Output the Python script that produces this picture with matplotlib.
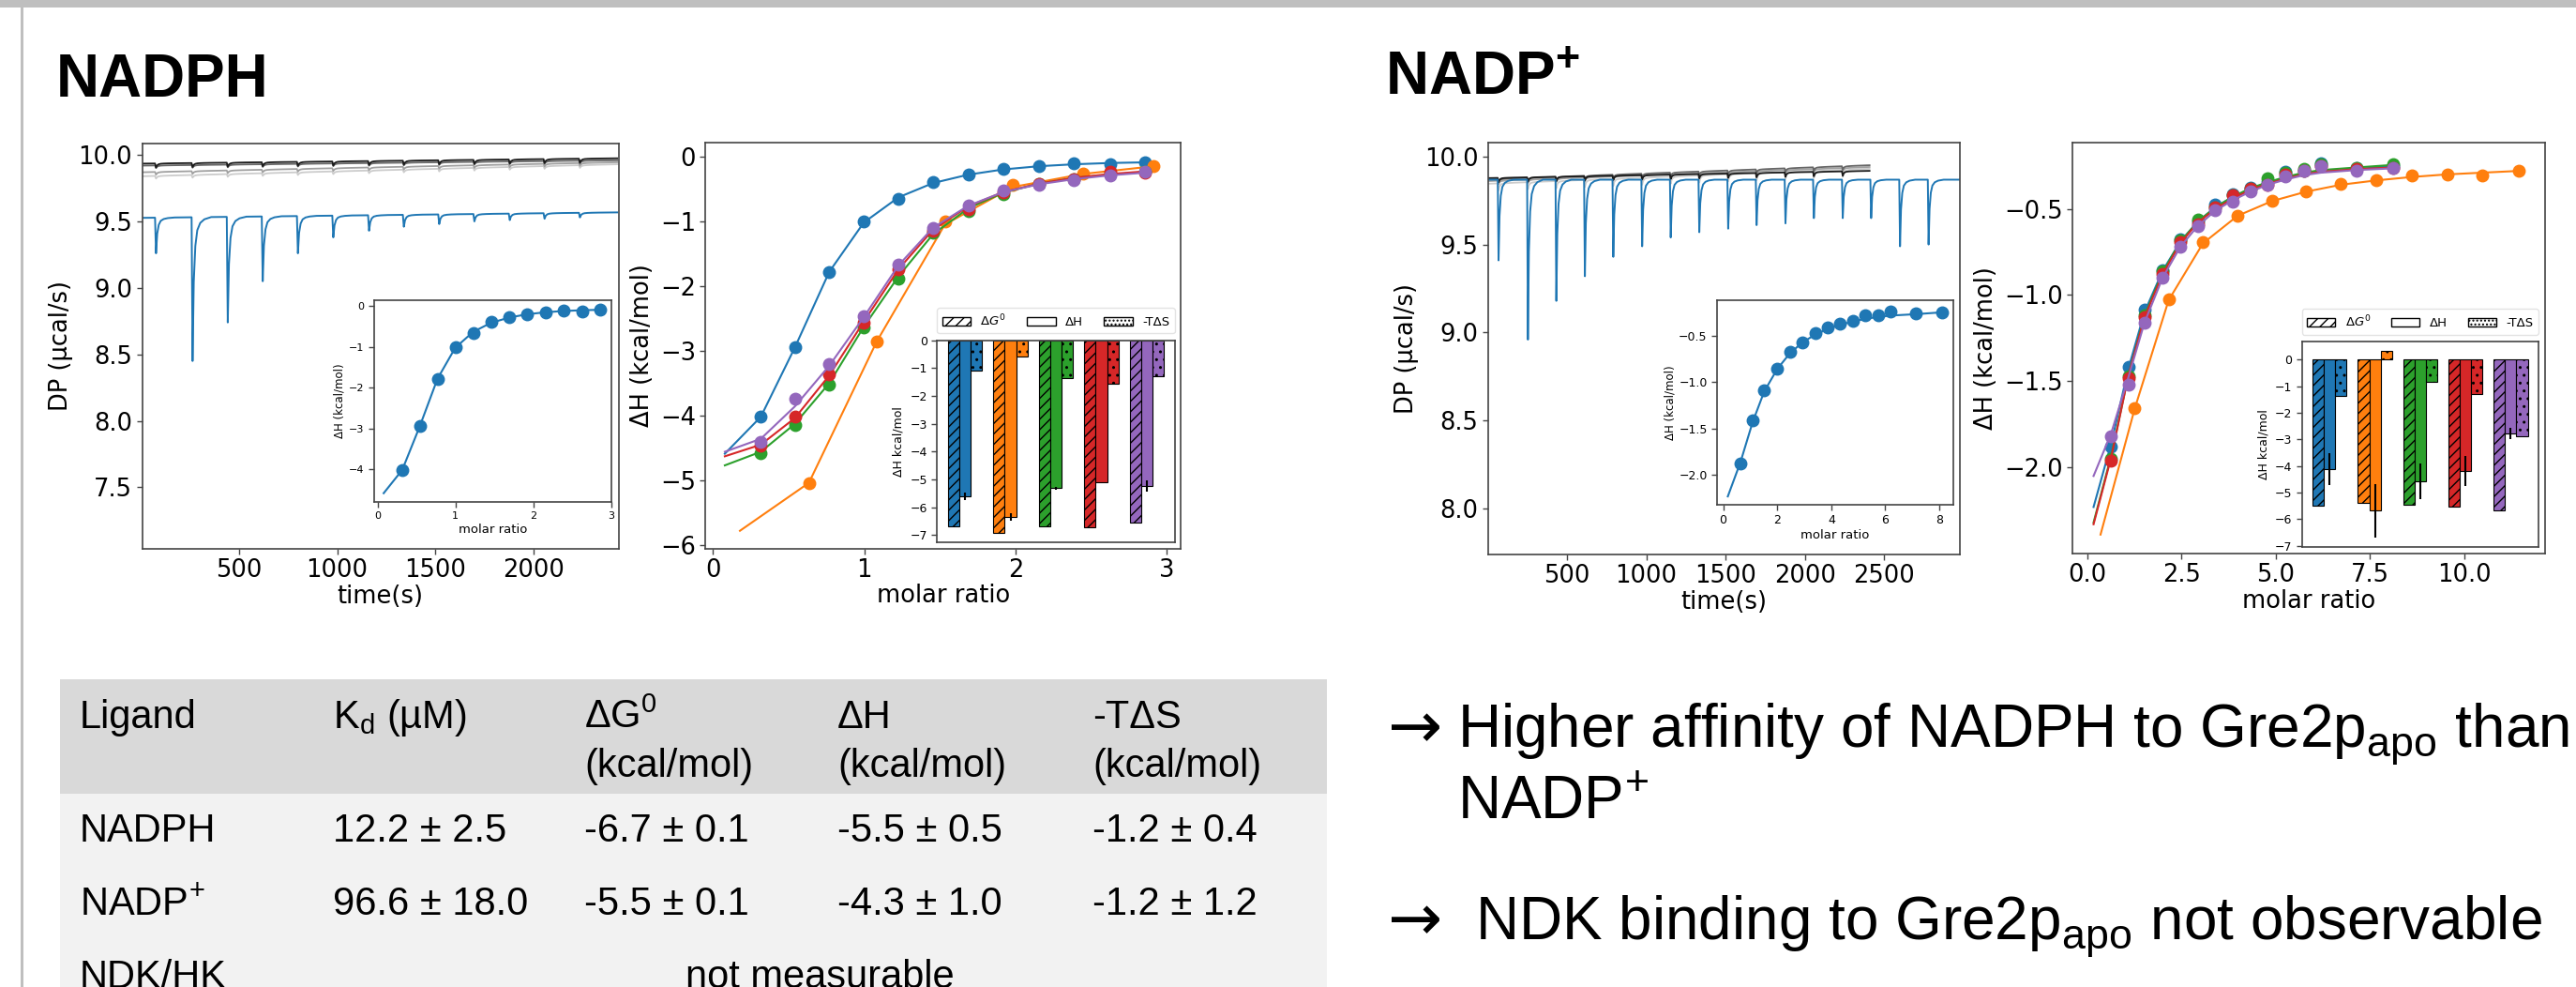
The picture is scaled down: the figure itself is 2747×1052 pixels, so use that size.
import numpy as np
import matplotlib.pyplot as plt
from matplotlib.patches import Rectangle, Patch

W, H = 2747, 1052
COLORS = ['#1f77b4', '#ff7f0e', '#2ca02c', '#d62728', '#9467bd']
SANS = ['Liberation Sans', 'DejaVu Sans']

# --- thermograms (DP vs time) ---
DP1_T = [10, 2425]
DP1_BASE = [9.527, 9.568]
DP1_INJ = [73, 259, 438, 616, 795, 975, 1157, 1334, 1514, 1693, 1873, 2050, 2230]
DP1_MIN = [9.26, 8.45, 8.74, 9.05, 9.26, 9.38, 9.43, 9.46, 9.48, 9.50, 9.51, 9.52, 9.53]
DP1_REF_BASE = [[9.84, 9.93], [9.87, 9.945], [9.92, 9.96], [9.935, 9.975]]
DP1_REF_DIP = [0.02, 0.02, 0.02, 0.03]

DP2_T = [5, 2975]
DP2_BASE = [9.868, 9.868]
DP2_INJ = [64, 249, 428, 608, 787, 969, 1149, 1329, 1511, 1690, 1872, 2051, 2233, 2412, 2594, 2774]
DP2_MIN = [9.41, 8.96, 9.18, 9.32, 9.43, 9.49, 9.54, 9.57, 9.59, 9.61, 9.62, 9.65, 9.65, 9.65, 9.49, 9.50]
DP2_REF_T = [5, 2407]
DP2_REF_BASE = [[9.845, 9.93], [9.86, 9.94], [9.87, 9.95], [9.877, 9.918]]
DP2_REF_DIP = [0.04, 0.02, 0.02, 0.025]
REF_COLORS = ['#cccccc', '#a0a0a0', '#666666', '#1a1a1a']

# shape of one injection peak (s after injection, fraction of depth)
PEAK_DT = [0, 5, 11, 19, 29, 44, 65, 100]
PEAK_FRAC = [0, 1, 0.45, 0.2, 0.09, 0.04, 0.015, 0]

# --- NADPH isotherms ---
MR1 = [0.316, 0.541, 0.769, 0.997, 1.227, 1.455, 1.688, 1.918, 2.153, 2.386, 2.625, 2.855]
MR1_FIT = [0.078] + MR1
DH1 = {
    'blue': [-4.02, -2.94, -1.79, -1.00, -0.65, -0.39, -0.28, -0.19, -0.15, -0.11, -0.12, -0.09],
    'green': [-4.58, -4.15, -3.52, -2.64, -1.88, -1.17, -0.85, -0.58, -0.42, -0.35, -0.27, -0.23],
    'red': [-4.47, -4.02, -3.37, -2.57, -1.74, -1.15, -0.82, -0.55, -0.42, -0.35, -0.24, -0.25],
    'purple': [-4.41, -3.74, -3.20, -2.46, -1.67, -1.10, -0.76, -0.53, -0.44, -0.36, -0.29, -0.23],
}
FIT1 = {
    'blue': [-4.59, -4.02, -2.95, -1.78, -1.02, -0.63, -0.41, -0.28, -0.20, -0.15, -0.12, -0.10, -0.09],
    'green': [-4.77, -4.56, -4.13, -3.50, -2.63, -1.85, -1.20, -0.80, -0.56, -0.42, -0.33, -0.28, -0.24],
    'red': [-4.63, -4.45, -4.04, -3.38, -2.55, -1.74, -1.13, -0.77, -0.55, -0.42, -0.33, -0.27, -0.23],
    'purple': [-4.56, -4.36, -3.86, -3.23, -2.48, -1.68, -1.10, -0.76, -0.55, -0.43, -0.35, -0.29, -0.25],
}
MR1_OR = [0.634, 1.082, 1.533, 1.984, 2.445, 2.915]
DH1_OR = [-5.04, -2.86, -1.00, -0.44, -0.26, -0.145]
MR1_OR_FIT = [0.178] + MR1_OR
FIT1_OR = [-5.78, -5.04, -2.86, -1.05, -0.47, -0.27, -0.15]

# --- NADP+ isotherms ---
MR2 = [0.64, 1.09, 1.52, 2.0, 2.47, 2.93, 3.40, 3.86, 4.33, 4.79, 5.26, 5.74, 6.2, 7.13, 8.1]
MR2_FIT = [0.17] + MR2
DH2 = {
    'blue': [-1.88, -1.415, -1.085, -0.854, -0.677, -0.573, -0.477, -0.415, -0.377, -0.342, -0.285, -0.277, -0.238, -0.265, -0.254],
    'green': [-1.95, -1.47, -1.12, -0.86, -0.68, -0.56, -0.49, -0.42, -0.38, -0.32, -0.29, -0.27, -0.24, -0.26, -0.24],
    'red': [-1.96, -1.48, -1.13, -0.88, -0.69, -0.59, -0.49, -0.42, -0.38, -0.36, -0.30, -0.28, -0.25, -0.27, -0.26],
    'purple': [-1.82, -1.52, -1.16, -0.90, -0.72, -0.60, -0.51, -0.46, -0.40, -0.36, -0.31, -0.28, -0.25, -0.28, -0.26],
}
FIT2 = {
    'blue': [-2.23, -1.86, -1.43, -1.10, -0.86, -0.69, -0.575, -0.49, -0.43, -0.385, -0.35, -0.32, -0.30, -0.285, -0.27, -0.25],
    'green': [-2.32, -1.93, -1.47, -1.12, -0.87, -0.69, -0.575, -0.49, -0.43, -0.38, -0.345, -0.315, -0.29, -0.275, -0.26, -0.245],
    'red': [-2.33, -1.94, -1.47, -1.13, -0.88, -0.70, -0.58, -0.50, -0.44, -0.39, -0.355, -0.325, -0.30, -0.285, -0.27, -0.26],
    'purple': [-2.05, -1.80, -1.48, -1.16, -0.90, -0.72, -0.60, -0.51, -0.45, -0.40, -0.36, -0.33, -0.305, -0.29, -0.275, -0.265],
}
MR2_OR = [1.26, 2.16, 3.07, 3.99, 4.90, 5.81, 6.73, 7.66, 8.61, 9.54, 10.48, 11.43]
DH2_OR = [-1.655, -1.024, -0.690, -0.54, -0.454, -0.398, -0.355, -0.331, -0.306, -0.299, -0.304, -0.28]
MR2_OR_FIT = [0.355] + MR2_OR
FIT2_OR = [-2.39, -1.66, -1.03, -0.70, -0.54, -0.455, -0.40, -0.36, -0.335, -0.315, -0.30, -0.29, -0.28]

# --- thermodynamic bar insets (kcal/mol) ---
BAR1_DG = [-6.69, -6.91, -6.69, -6.72, -6.55]
BAR1_DH = [-5.60, -6.36, -5.31, -5.09, -5.25]
BAR1_DH_ERR = [0.14, 0.14, 0.05, 0.0, 0.2]
BAR1_TDS = [-1.09, -0.57, -1.35, -1.57, -1.29]

BAR2_DG = [-5.48, -5.38, -5.46, -5.52, -5.68]
BAR2_DH = [-4.12, -5.69, -4.59, -4.19, -2.78]
BAR2_DH_ERR = [0.59, 1.0, 0.67, 0.58, 0.22]
BAR2_TDS = [-1.35, 0.33, -0.85, -1.29, -2.87]

# --- table ---
TABLE_HEAD = ['Ligand', 'K$_\\mathregular{d}$ (µM)', 'ΔG$^\\mathregular{0}$', 'ΔH', '-TΔS']
TABLE_ROWS = [
    ['NADPH', '12.2 ± 2.5', '-6.7 ± 0.1', '-5.5 ± 0.5', '-1.2 ± 0.4'],
    ['NADP$^\\mathregular{+}$', '96.6 ± 18.0', '-5.5 ± 0.1', '-4.3 ± 1.0', '-1.2 ± 1.2'],
]


def box(l, t, r, b):
    return [l / W, 1 - b / H, (r - l) / W, (b - t) / H]


def trace(t_range, base, inj, depth):
    t, f, d = [t_range[0]], [0], [0]
    for ti, di in zip(inj, depth):
        t += [ti + x for x in PEAK_DT]
        f += PEAK_FRAC
        d += [di] * len(PEAK_DT)
    t.append(t_range[1]); f.append(0); d.append(0)
    t = np.array(t, dtype=float)
    y = np.interp(t, t_range, base) - np.array(f) * np.array(d)
    return t, y


def style(ax, fs):
    for s in ax.spines.values():
        s.set_color('#444444')
        s.set_linewidth(1.2)
    ax.tick_params(labelsize=fs, color='#444444', width=1.0, length=4)


def fig_text(x, y, s, family=SANS, **kw):
    fig.text(x / W, 1 - y / H, s, va='baseline', family=family, **kw)


fig = plt.figure(figsize=(W / 100, H / 100), dpi=100)

# slide frame
fig.add_artist(Rectangle((0, 1 - 8 / H), 1, 8 / H, transform=fig.transFigure, color='#bfbfbf', lw=0))
fig.add_artist(Rectangle((21.5 / W, 0), 3 / W, 1, transform=fig.transFigure, color='#bfbfbf', lw=0))

fig_text(60, 103, 'NADPH', fontsize=46, fontweight='bold')
fig_text(1477, 101, 'NADP$^\\mathregular{+}$', fontsize=46, fontweight='bold')


def dp_panel(rect, t_range, base, inj, mins, ref_t, ref_base, ref_dip, xlim, ylim, yticks, xticks):
    ax = fig.add_axes(rect)
    for b, dp, c in zip(ref_base, ref_dip, REF_COLORS):
        inj_r = [ti for ti in inj if ti + PEAK_DT[-1] < ref_t[1]]
        t, y = trace(ref_t, b, inj_r, [dp] * len(inj_r))
        ax.plot(t, y, color=c, lw=1.3)
    depth = np.interp(inj, t_range, base) - np.array(mins)
    t, y = trace(t_range, base, inj, depth)
    ax.plot(t, y, color=COLORS[0], lw=1.4)
    ax.set_xlim(xlim)
    ax.set_ylim(ylim)
    ax.set_xticks(xticks)
    ax.set_yticks(yticks)
    ax.set_xlabel('time(s)', fontsize=18.5, labelpad=1)
    ax.set_ylabel('DP (µcal/s)', fontsize=18.5)
    style(ax, 18.5)
    return ax


def iso_inset(rect, x, y, xf, yf, xlim, ylim, xticks, yticks, fs):
    ax = fig.add_axes(rect)
    ax.plot(xf, yf, color=COLORS[0], lw=1.5)
    ax.plot(x, y, 'o', color=COLORS[0], ms=9)
    ax.set_xlim(xlim)
    ax.set_ylim(ylim)
    ax.set_xticks(xticks)
    ax.set_yticks(yticks)
    ax.set_xlabel('molar ratio', fontsize=9.5, labelpad=2)
    ax.set_ylabel('ΔH (kcal/mol)', fontsize=8.5, labelpad=2)
    style(ax, fs)


def iso_panel(rect, mr, dh, mr_fit, fit, mr_or, dh_or, mr_or_fit, fit_or, xlim, ylim, xticks, yticks):
    ax = fig.add_axes(rect)
    names = ['blue', 'orange', 'green', 'red', 'purple']
    for name, c in zip(names, COLORS):
        if name == 'orange':
            ax.plot(mr_or_fit, fit_or, color=c, lw=1.5)
            ax.plot(mr_or, dh_or, 'o', color=c, ms=9)
        else:
            ax.plot(mr_fit, fit[name], color=c, lw=1.5)
            ax.plot(mr, dh[name], 'o', color=c, ms=9)
    ax.set_xlim(xlim)
    ax.set_ylim(ylim)
    ax.set_xticks(xticks)
    ax.set_yticks(yticks)
    ax.set_xlabel('molar ratio', fontsize=18.5, labelpad=1)
    ax.set_ylabel('ΔH (kcal/mol)', fontsize=18.5)
    style(ax, 18.5)
    return ax


def bar_inset(rect, dg, dh, dh_err, tds, ylim):
    ax = fig.add_axes(rect)
    x = np.arange(len(dg))
    ax.bar(x - 0.25, dg, 0.25, color=COLORS, edgecolor='black', hatch='///', lw=0.8)
    ax.bar(x, dh, 0.25, color=COLORS, edgecolor='black', lw=0.8,
           yerr=dh_err, error_kw=dict(ecolor='black', lw=1.5, capsize=0))
    ax.bar(x + 0.25, tds, 0.25, color=COLORS, edgecolor='black', hatch='..', lw=0.8)
    ax.set_xlim(-0.6125, 4.6125)
    ax.set_ylim(ylim)
    ax.set_xticks([])
    ax.set_yticks(range(0, -8, -1))
    ax.set_ylabel('ΔH kcal/mol', fontsize=9)
    style(ax, 9)
    handles = [Patch(fc='white', ec='black', hatch='///', label=r'$\Delta G^0$'),
               Patch(fc='white', ec='black', label='ΔH'),
               Patch(fc='white', ec='black', hatch='....', label='-TΔS')]
    ax.legend(handles=handles, ncol=3, loc='lower left', bbox_to_anchor=(0, 1.035, 1, 0.1),
              mode='expand', fontsize=9.5, borderaxespad=0, handlelength=2.3,
              frameon=True, edgecolor='#dddddd')


# NADPH block
dp_panel(box(151.5, 152.7, 659.5, 585), DP1_T, DP1_BASE, DP1_INJ, DP1_MIN,
         DP1_T, DP1_REF_BASE, DP1_REF_DIP, (7, 2431), (7.037, 10.088),
         [7.5, 8.0, 8.5, 9.0, 9.5, 10.0], [500, 1000, 1500, 2000])
iso_inset(box(398.5, 319.6, 652, 534.8), MR1, DH1['blue'], MR1_FIT, FIT1['blue'],
          (-0.05, 3.0), (-4.8, 0.154), [0, 1, 2, 3], [0, -1, -2, -3, -4], 8)
iso_panel(box(752.3, 152.4, 1259.4, 584.5), MR1, DH1, MR1_FIT, FIT1,
          MR1_OR, DH1_OR, MR1_OR_FIT, FIT1_OR, (-0.05, 3.095), (-6.052, 0.209),
          [0, 1, 2, 3], [0, -1, -2, -3, -4, -5, -6])
bar_inset(box(999.3, 362.7, 1252.7, 578.3), BAR1_DG, BAR1_DH, BAR1_DH_ERR, BAR1_TDS, (-7.27, 0))

# NADP+ block
dp_panel(box(1586.7, 151.7, 2090.3, 590.7), DP2_T, DP2_BASE, DP2_INJ, DP2_MIN,
         DP2_REF_T, DP2_REF_BASE, DP2_REF_DIP, (2, 2978), (7.742, 10.08),
         [8.0, 8.5, 9.0, 9.5, 10.0], [500, 1000, 1500, 2000, 2500])
iso_inset(box(1831, 320, 2083, 538), MR2, DH2['blue'], MR2_FIT, FIT2['blue'],
          (-0.23, 8.52), (-2.32, -0.12), [0, 2, 4, 6, 8], [-0.5, -1.0, -1.5, -2.0], 9)
iso_panel(box(2210, 151.7, 2713.7, 590), MR2, DH2, MR2_FIT, FIT2,
          MR2_OR, DH2_OR, MR2_OR_FIT, FIT2_OR, (-0.39, 12.13), (-2.5, -0.114),
          [0.0, 2.5, 5.0, 7.5, 10.0], [-0.5, -1.0, -1.5, -2.0])
bar_inset(box(2454.7, 364.3, 2707, 583.3), BAR2_DG, BAR2_DH, BAR2_DH_ERR, BAR2_TDS, (-7.06, 0.67))

# table
fig.add_artist(Rectangle((64 / W, 1 - 845.7 / H), (1415 - 64) / W, (845.7 - 724) / H,
                         transform=fig.transFigure, color='#d9d9d9', lw=0))
fig.add_artist(Rectangle((64 / W, 0), (1415 - 64) / W, 1 - 845.7 / H,
                         transform=fig.transFigure, color='#f2f2f2', lw=0))
col_x = [85, 355, 623, 893, 1165]
for x, s in zip(col_x, TABLE_HEAD):
    fig_text(x, 776, s, fontsize=30)
for x in col_x[2:]:
    fig_text(x, 828, '(kcal/mol)', fontsize=30)
for row, y in zip(TABLE_ROWS, [896.7, 975]):
    for x, s in zip(col_x, row):
        fig_text(x, y, s, fontsize=30)
fig_text(85, 1053, 'NDK/HK', fontsize=30)
fig.text(874 / W, 1 - 1053 / H, 'not measurable', va='baseline', ha='center', family=SANS, fontsize=30)

# conclusions
fig_text(1480, 796.7, '→', family='DejaVu Sans', fontsize=50)
fig_text(1554, 796.7, 'Higher affinity of NADPH to Gre2p$_\\mathregular{apo}$ than', fontsize=46)
fig_text(1554, 872.7, 'NADP$^\\mathregular{+}$', fontsize=46)
fig_text(1480, 1001.7, '→', family='DejaVu Sans', fontsize=50)
fig_text(1573, 1001.7, 'NDK binding to Gre2p$_\\mathregular{apo}$ not observable', fontsize=46)

fig.savefig('out.png', dpi=100)
